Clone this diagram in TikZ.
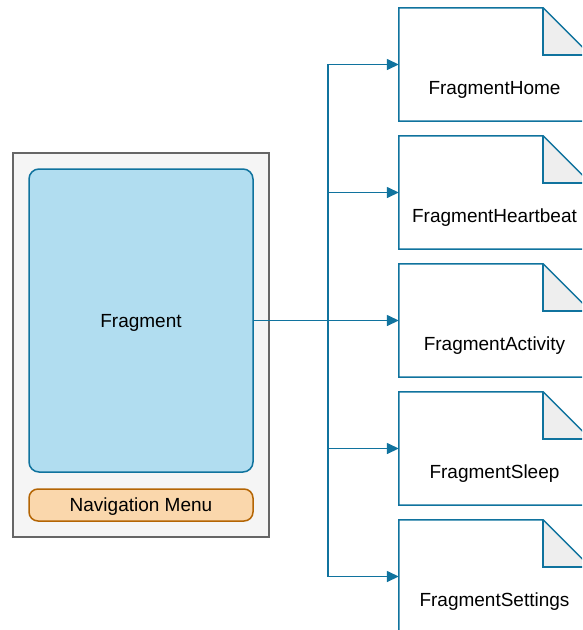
\documentclass[tikz,border=0pt]{standalone}
\usepackage{fontspec}
\setmainfont{Liberation Sans}
\usepackage{xcolor}
\usepackage{tikz}
\usetikzlibrary{arrows.meta,positioning}

\definecolor{frameline}{HTML}{666666}
\definecolor{framefill}{HTML}{F5F5F5}
\definecolor{fragline}{HTML}{10739E}
\definecolor{fragfill}{HTML}{B1DDF0}
\definecolor{menuline}{HTML}{B46504}
\definecolor{menufill}{HTML}{FAD7AC}
\definecolor{foldgray}{HTML}{EEEEEE}

\begin{document}
\begin{tikzpicture}[
  x=1pt, y=-1pt,
  font=\fontsize{19}{23}\selectfont,
  node distance=128pt,
  on grid,
  % Node styles
  phone/.style={rectangle, draw=frameline, fill=framefill, line width=1.5pt, minimum width=256pt, minimum height=384pt, inner sep=0pt},
  frag/.style={rectangle, rounded corners=10pt, draw=fragline, fill=fragfill, line width=1.5pt, minimum width=224pt, minimum height=303pt, inner sep=0pt, text depth=0pt},
  menu/.style={rectangle, rounded corners=9pt, draw=menuline, fill=menufill, line width=1.5pt, minimum width=224pt, minimum height=32pt, inner sep=0pt, text depth=0pt},
  note/.style={rectangle, draw=none, minimum width=191pt, minimum height=113pt, inner sep=0pt},
  noteline/.style={draw=fragline, line width=1.5pt, line join=miter},
  arr/.style={-{Triangle[length=12pt,width=11pt]}, line width=1.5pt, color=fragline}
]
  \useasboundingbox (0,0) rectangle (582,630);
  \clip (0,0) rectangle (582,630);

  % Phone frame with its fragment and menu
  \node[phone] (phone) at (141,345) {};
  \node[frag] (frag) at (141,320.5) {Fragment};
  \node[menu] (menu) at (141,505) {Navigation Menu};

  % Fragment pages
  \node[note, label={[yshift=-25pt]center:FragmentHome}] (home) at (494.5,64.5) {};
  \node[note, below=of home, label={[yshift=-25pt]center:FragmentHeartbeat}] (heart) {};
  \node[note, below=of heart, label={[yshift=-25pt]center:FragmentActivity}] (act) {};
  \node[note, below=of act, label={[yshift=-25pt]center:FragmentSleep}] (sleep) {};
  \node[note, below=of sleep, label={[yshift=-25pt]center:FragmentSettings}] (set) {};

  % Page outlines with folded corner
  \foreach \n in {home,heart,act,sleep,set} {
    \fill[foldgray] ([xshift=-47pt]\n.north east) |- ([yshift=-47pt]\n.north east) -- cycle;
    \draw[noteline] (\n.north west) -- ([xshift=-47pt]\n.north east) -- ([yshift=-47pt]\n.north east)
      -- (\n.south east) -- (\n.south west) -- cycle;
    \draw[noteline] ([xshift=-47pt]\n.north east) |- ([yshift=-47pt]\n.north east);
  }

  % Edges: Fragment -> pages
  \draw[arr] (frag.east) -- (act.west);
  \foreach \n in {home,heart,sleep,set}
    \draw[arr] (frag.east) -- ++(74,0) |- (\n.west);

\end{tikzpicture}
\end{document}
